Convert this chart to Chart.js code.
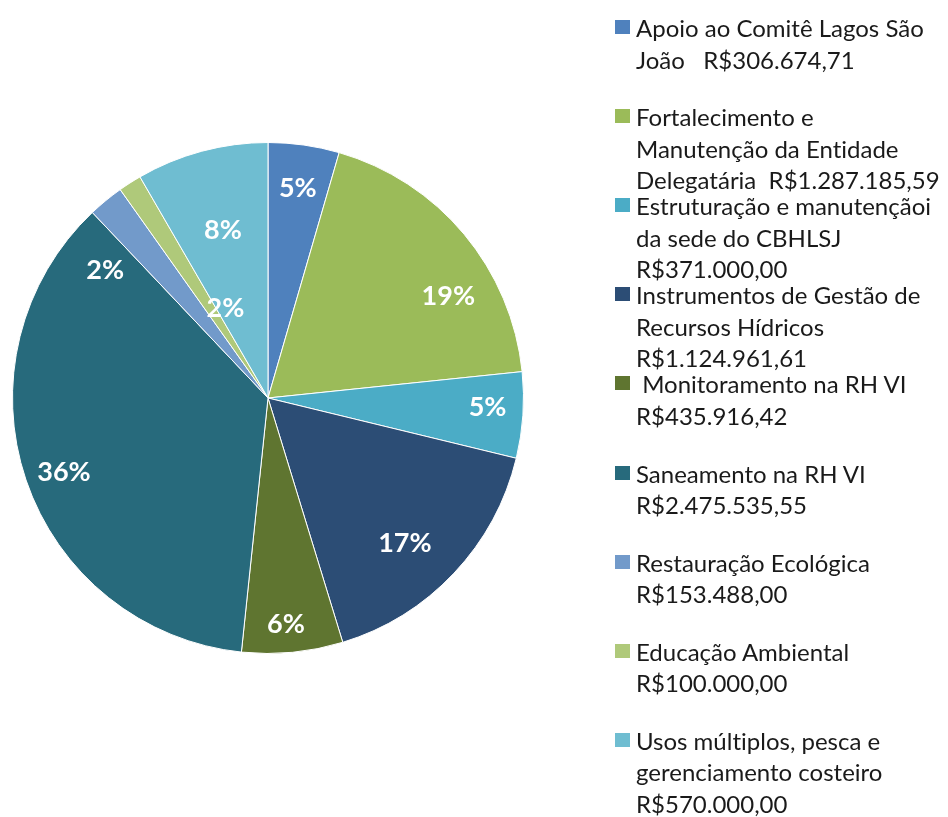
<!DOCTYPE html>
<html>
<head>
<meta charset="utf-8">
<script src="https://cdn.jsdelivr.net/npm/chart.js@4/dist/chart.umd.min.js"></script>
<style>
  body { margin: 0; background: #fff; }
  #wrap { position: relative; width: 948px; height: 817px; overflow: hidden; }
  #grafico { position: absolute; left: 0; top: 0; }
  #legenda { position: absolute; left: 0; top: 0; width: 948px; height: 817px; pointer-events: none;
             font-family: Lato, "Liberation Sans", sans-serif; font-size: 24px; color: #1a1a1a;
             font-variant-ligatures: none; }
  .item { position: absolute; left: 615px; white-space: pre; }
  .cor { position: absolute; left: 0; width: 15px; height: 14px; }
  .linha { position: absolute; left: 21px; height: 32px; line-height: 32px; }
</style>
</head>
<body>
<div id="wrap">
  <canvas id="grafico" width="948" height="817"></canvas>
  <div id="legenda"></div>
</div>
<script>
// === Dados ===
const categorias = [
  'Apoio ao Comitê Lagos São João',
  'Fortalecimento e Manutenção da Entidade Delegatária',
  'Estruturação e manutençãoi da sede do CBHLSJ',
  'Instrumentos de Gestão de Recursos Hídricos',
  'Monitoramento na RH VI',
  'Saneamento na RH VI',
  'Restauração Ecológica',
  'Educação Ambiental',
  'Usos múltiplos, pesca e gerenciamento costeiro'
];
const valores = [306674.71, 1287185.59, 371000.00, 1124961.61, 435916.42, 2475535.55, 153488.00, 100000.00, 570000.00];
// porcentagens como aparecem no gráfico original
const porcentagens = [5, 19, 5, 17, 6, 36, 2, 2, 8];
const cores = ['#4F81BD', '#9BBB59', '#4BACC6', '#2C4D75', '#5F7530', '#276A7C', '#729ACA', '#AFC97A', '#6FBDD1'];

// linhas da legenda como aparecem quebradas no original
const linhasLegenda = [
  ['Apoio ao Comitê Lagos São', 'João   R$306.674,71'],
  ['Fortalecimento e', 'Manutenção da Entidade', 'Delegatária  R$1.287.185,59'],
  ['Estruturação e manutençãoi', 'da sede do CBHLSJ', 'R$371.000,00'],
  ['Instrumentos de Gestão de', 'Recursos Hídricos', 'R$1.124.961,61'],
  [' Monitoramento na RH VI', 'R$435.916,42'],
  ['Saneamento na RH VI', 'R$2.475.535,55'],
  ['Restauração Ecológica', 'R$153.488,00'],
  ['Educação Ambiental', 'R$100.000,00'],
  ['Usos múltiplos, pesca e', 'gerenciamento costeiro', 'R$570.000,00']
];

// posição dos rótulos de % (deslocamento em graus e fração do raio)
const desvioRotulo = [0, 10.5, -1.5, 3.3, 1, -1.3, -12.5, 7.4, 0];
const raioRotulo = [0.83, 0.81, 0.86, 0.78, 0.89, 0.85, 0.81, 0.39, 0.68];

// === Rótulos de porcentagem ===
const rotulosPct = {
  id: 'rotulosPct',
  afterDatasetsDraw(chart) {
    const ctx = chart.ctx;
    const meta = chart.getDatasetMeta(0);
    ctx.save();
    ctx.font = 'bold 27px Lato, "Liberation Sans", sans-serif';
    ctx.fillStyle = '#ffffff';
    ctx.textAlign = 'center';
    ctx.textBaseline = 'middle';
    meta.data.forEach((arc, i) => {
      const p = arc.getProps(['x', 'y', 'startAngle', 'endAngle', 'outerRadius'], true);
      const ang = (p.startAngle + p.endAngle) / 2 + desvioRotulo[i] * Math.PI / 180;
      const r = p.outerRadius * raioRotulo[i];
      ctx.fillText(porcentagens[i] + '%', p.x + Math.cos(ang) * r, p.y + Math.sin(ang) * r);
    });
    ctx.restore();
  }
};

const grafico = new Chart(document.getElementById('grafico'), {
  type: 'pie',
  data: {
    labels: categorias,
    datasets: [{ data: valores, backgroundColor: cores, borderColor: '#ffffff', borderWidth: 1 }]
  },
  options: {
    responsive: false,
    animation: false,
    layout: { padding: { left: 12, top: 142, right: 424, bottom: 163 } },
    plugins: { legend: { display: false }, tooltip: { enabled: false } }
  },
  plugins: [rotulosPct]
});

// === Legenda ===
const legenda = document.getElementById('legenda');
linhasLegenda.forEach((linhas, i) => {
  const item = document.createElement('div');
  item.className = 'item';
  item.style.top = (12 + i * 89.1) + 'px';
  const cor = document.createElement('div');
  cor.className = 'cor';
  cor.style.background = cores[i];
  cor.style.top = '8px';
  item.appendChild(cor);
  linhas.forEach((t, j) => {
    const l = document.createElement('div');
    l.className = 'linha';
    l.style.top = (j * 31.5) + 'px';
    l.textContent = t;
    item.appendChild(l);
  });
  legenda.appendChild(item);
});
</script>
</body>
</html>
